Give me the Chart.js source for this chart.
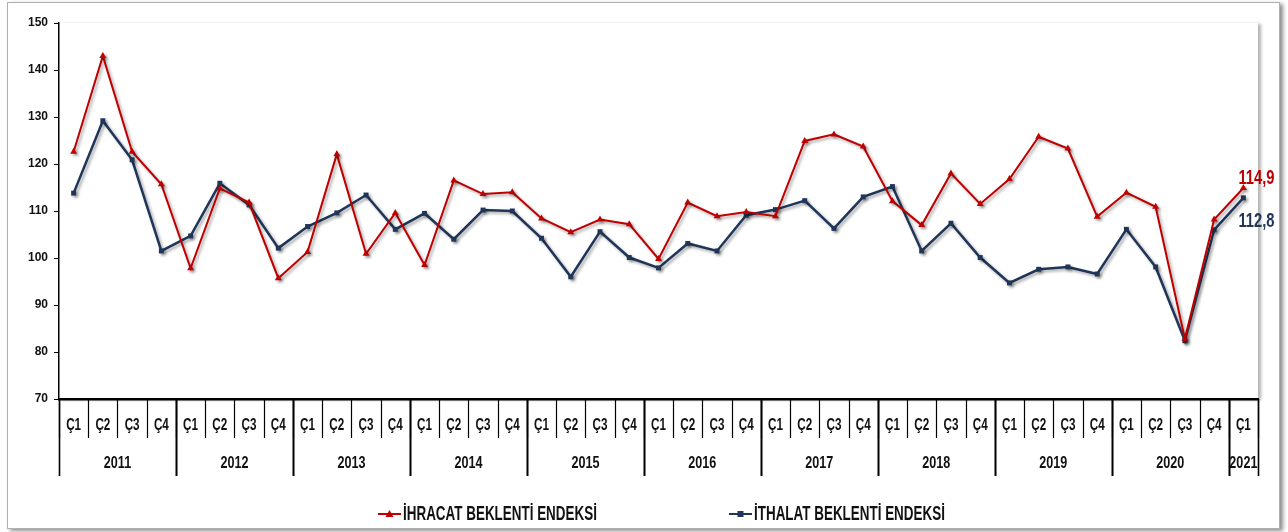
<!DOCTYPE html>
<html lang="tr">
<head>
<meta charset="utf-8">
<title>İhracat / İthalat Beklenti Endeksi</title>
<script src="https://cdn.jsdelivr.net/npm/chart.js@4.4.1/dist/chart.umd.min.js"></script>
<style>
  html, body { margin: 0; padding: 0; background: #fff; }
  #wrap { position: relative; width: 1288px; height: 532px; }
</style>
</head>
<body>
<div id="wrap"><canvas id="chart" width="1288" height="532"></canvas></div>
<script>
/* global Chart */

// data
const years = ['2011', '2012', '2013', '2014', '2015', '2016', '2017', '2018', '2019', '2020', '2021'];
const quarterNames = ['Ç1', 'Ç2', 'Ç3', 'Ç4'];
const quartersInYear = [4, 4, 4, 4, 4, 4, 4, 4, 4, 4, 1];

const ihracat = [122.6, 143.0, 122.6, 115.7, 97.8, 114.8, 111.8, 95.7, 101.3, 122.1, 100.9, 109.6,
  98.5, 116.5, 113.6, 114.0, 108.4, 105.5, 108.2, 107.2, 99.8, 111.8, 108.9, 109.8, 108.9, 124.9,
  126.3, 123.7, 112.1, 107.0, 118.0, 111.5, 116.8, 125.8, 123.3, 108.8, 113.9, 110.9, 82.8, 108.2, 114.9];
const ithalat = [113.8, 129.2, 120.9, 101.5, 104.7, 115.9, 111.3, 102.1, 106.7, 109.6, 113.4, 106.1,
  109.5, 104.0, 110.2, 110.0, 104.2, 96.0, 105.6, 100.1, 97.9, 103.1, 101.5, 109.1, 110.3, 112.2,
  106.3, 113.0, 115.2, 101.5, 107.4, 100.1, 94.7, 97.6, 98.1, 96.6, 106.1, 98.1, 82.4, 106.0, 112.8];

const seriesNames = ['İHRACAT BEKLENTİ ENDEKSİ', 'İTHALAT BEKLENTİ ENDEKSİ'];
const endLabels = ['114,9', '112,8'];

const RED = '#C00000';
const BLUE = '#1F3659';
const FONT = "'Liberation Sans', Arial, sans-serif";

// quarter labels per category, year groups for the second level
const labels = [];
years.forEach((y, yi) => {
  for (let q = 0; q < quartersInYear[yi]; q++) labels.push(quarterNames[q]);
});

// the reference uses a narrow face, so squeeze the text horizontally
function drawText(ctx, text, x, y, align, sx, sy) {
  ctx.save();
  ctx.translate(x, y);
  ctx.scale(sx || 1, sy || 1);
  ctx.textAlign = align;
  ctx.textBaseline = 'middle';
  ctx.fillText(text, 0, 0);
  ctx.restore();
}

// frame and plot-area background
const framePlugin = {
  id: 'frame',
  beforeDraw(chart) {
    const { ctx, chartArea: a } = chart;
    ctx.save();
    ctx.fillStyle = '#fff';
    ctx.fillRect(0, 0, chart.width, chart.height);
    ctx.shadowColor = 'rgba(0,0,0,0.45)';
    ctx.shadowBlur = 4;
    ctx.shadowOffsetX = 3;
    ctx.shadowOffsetY = 2;
    ctx.fillRect(7, 2, 1273, 527);
    ctx.shadowColor = 'transparent';
    ctx.strokeStyle = '#B0B0B0';
    ctx.lineWidth = 1;
    ctx.strokeRect(7.5, 2.5, 1272, 526);
    // plot area with a soft shadow on the right
    ctx.shadowColor = 'rgba(0,0,0,0.3)';
    ctx.shadowBlur = 3;
    ctx.shadowOffsetX = 3;
    ctx.shadowOffsetY = 1;
    ctx.fillRect(a.left, a.top, a.right - a.left, a.bottom - a.top);
    ctx.restore();
  }
};

// soft drop shadow under the lines
const shadowPlugin = {
  id: 'lineShadow',
  beforeDatasetDraw(chart) {
    const ctx = chart.ctx;
    ctx.save();
    ctx.shadowColor = 'rgba(0,0,0,0.35)';
    ctx.shadowBlur = 3;
    ctx.shadowOffsetX = 2;
    ctx.shadowOffsetY = 2;
  },
  afterDatasetDraw(chart) {
    chart.ctx.restore();
  }
};

// two-level category axis (quarters / years), end labels and legend
const axisPlugin = {
  id: 'multiAxis',
  afterDraw(chart) {
    const { ctx } = chart;
    const x = chart.scales.x;
    const base = chart.chartArea.bottom;
    ctx.save();
    ctx.strokeStyle = '#000';
    ctx.fillStyle = '#111';

    // quarter cells
    ctx.lineWidth = 1.2;
    for (let i = 0; i <= labels.length; i++) {
      const px = Math.round(x.getPixelForValue(i - 0.5)) + 0.5;
      ctx.beginPath();
      ctx.moveTo(px, base);
      ctx.lineTo(px, base + 39);
      ctx.stroke();
    }
    ctx.font = 'bold 15px ' + FONT;
    labels.forEach((lab, i) => drawText(ctx, lab, x.getPixelForValue(i), base + 26, 'center', 0.78, 1.15));

    // year cells
    let start = 0;
    ctx.lineWidth = 1.6;
    years.forEach((y, yi) => {
      const end = start + quartersInYear[yi];
      const x0 = x.getPixelForValue(start - 0.5);
      const x1 = x.getPixelForValue(end - 0.5);
      [x0, x1].forEach(px => {
        ctx.beginPath();
        ctx.moveTo(Math.round(px) + 0.5, base);
        ctx.lineTo(Math.round(px) + 0.5, base + 77);
        ctx.stroke();
      });
      drawText(ctx, y, (x0 + x1) / 2, base + 64, 'center', 0.84, 1.12);
      start = end;
    });

    // values at the last point
    ctx.font = 'bold 18px ' + FONT;
    const offsets = [-9, 24];
    chart.data.datasets.forEach((ds, di) => {
      const meta = chart.getDatasetMeta(di);
      const pt = meta.data[meta.data.length - 1];
      ctx.fillStyle = ds.borderColor;
      drawText(ctx, endLabels[di], pt.x - 5, pt.y + offsets[di], 'left', 0.82, 1.08);
    });

    // legend
    const legendX = [378, 729];
    const ly = 514;
    ctx.font = 'bold 16px ' + FONT;
    chart.data.datasets.forEach((ds, di) => {
      const lx = legendX[di];
      ctx.strokeStyle = ds.borderColor;
      ctx.fillStyle = ds.borderColor;
      ctx.lineWidth = 2;
      ctx.beginPath();
      ctx.moveTo(lx, ly);
      ctx.lineTo(lx + 23, ly);
      ctx.stroke();
      const cx = lx + 11.5;
      ctx.beginPath();
      if (ds.pointStyle === 'triangle') {
        ctx.moveTo(cx, ly - 4);
        ctx.lineTo(cx + 4, ly + 3);
        ctx.lineTo(cx - 4, ly + 3);
      } else {
        ctx.rect(cx - 3, ly - 3, 6, 6);
      }
      ctx.fill();
      ctx.fillStyle = '#111';
      drawText(ctx, seriesNames[di], lx + 25, ly, 'left', 0.84, 1.25);
    });
    ctx.restore();
  }
};

new Chart(document.getElementById('chart'), {
  type: 'line',
  data: {
    labels,
    datasets: [
      {
        label: seriesNames[0],
        data: ihracat,
        borderColor: RED,
        backgroundColor: RED,
        borderWidth: 2,
        pointStyle: 'triangle',
        pointRadius: 4,
        pointBorderWidth: 0,
        tension: 0,
      },
      {
        label: seriesNames[1],
        data: ithalat,
        borderColor: BLUE,
        backgroundColor: BLUE,
        borderWidth: 2.5,
        pointStyle: 'rect',
        pointRadius: 3.5,
        pointBorderWidth: 0,
        tension: 0,
      },
    ],
  },
  options: {
    responsive: false,
    animation: false,
    events: [],
    layout: { padding: { left: 0, top: 23, right: 30, bottom: 0 } },
    scales: {
      x: {
        type: 'category',
        offset: true,
        ticks: { display: false },
        grid: { display: false },
        border: { display: true, color: '#000', width: 2.5 },
        afterFit: (s) => { s.height = 133; },
      },
      y: {
        min: 70,
        max: 150,
        ticks: {
          stepSize: 10,
          color: '#111',
          padding: 6,
          font: { family: FONT, size: 12, weight: 'bold' },
        },
        grid: { drawOnChartArea: false, drawTicks: true, tickLength: 5, color: '#000' },
        border: { display: true, color: '#000', width: 1.5 },
        afterFit: (s) => { s.width = 59; },
      },
    },
    plugins: {
      legend: { display: false },
      tooltip: { enabled: false },
    },
  },
  plugins: [framePlugin, shadowPlugin, axisPlugin],
});
</script>
</body>
</html>
